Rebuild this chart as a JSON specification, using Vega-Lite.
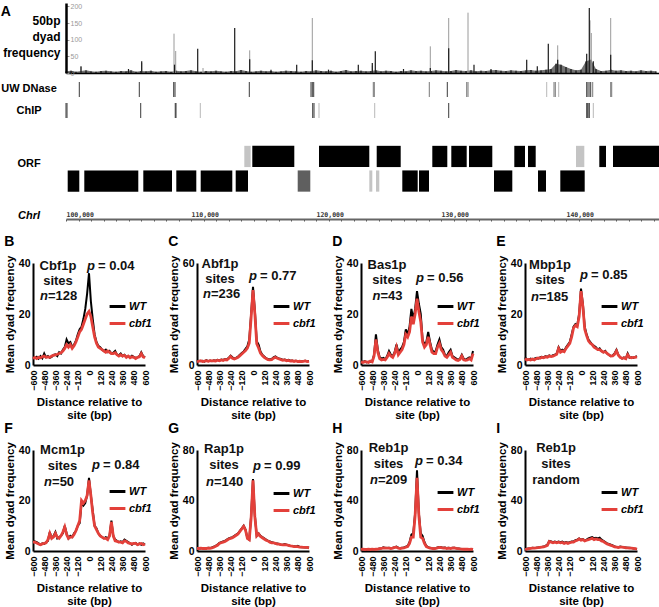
{
"$schema": "https://vega.github.io/schema/vega-lite/v6.json",
"padding": {"left": 0, "top": 2, "right": 0, "bottom": 0},
"datasets": {
"fuzz": [
{"pos":100000,"v":5},{"pos":100400,"v":7},{"pos":100800,"v":4},{"pos":101200,"v":6},{"pos":101600,"v":8},{"pos":102000,"v":5},{"pos":102400,"v":4},{"pos":102800,"v":6},{"pos":103200,"v":7},{"pos":103600,"v":5},
{"pos":104000,"v":4},{"pos":104400,"v":6},{"pos":104800,"v":5},{"pos":105200,"v":8},{"pos":105600,"v":4},{"pos":106000,"v":6},{"pos":106400,"v":5},{"pos":106800,"v":7},{"pos":107200,"v":4},{"pos":107600,"v":5},
{"pos":108000,"v":6},{"pos":108400,"v":4},{"pos":108800,"v":7},{"pos":109200,"v":5},{"pos":109600,"v":6},{"pos":110000,"v":8},{"pos":110400,"v":5},{"pos":110800,"v":4},{"pos":111200,"v":6},{"pos":111600,"v":5},
{"pos":112000,"v":7},{"pos":112400,"v":5},{"pos":112800,"v":4},{"pos":113200,"v":6},{"pos":113600,"v":5},{"pos":114000,"v":9},{"pos":114400,"v":6},{"pos":114800,"v":4},{"pos":115200,"v":5},{"pos":115600,"v":7},
{"pos":116000,"v":5},{"pos":116400,"v":6},{"pos":116800,"v":4},{"pos":117200,"v":5},{"pos":117600,"v":7},{"pos":118000,"v":6},{"pos":118400,"v":5},{"pos":118800,"v":4},{"pos":119200,"v":6},{"pos":119600,"v":5},
{"pos":120000,"v":8},{"pos":120400,"v":6},{"pos":120800,"v":5},{"pos":121200,"v":7},{"pos":121600,"v":4},{"pos":122000,"v":6},{"pos":122400,"v":9},{"pos":122800,"v":5},{"pos":123200,"v":6},{"pos":123600,"v":7},
{"pos":124000,"v":5},{"pos":124400,"v":6},{"pos":124800,"v":8},{"pos":125200,"v":5},{"pos":125600,"v":7},{"pos":126000,"v":6},{"pos":126400,"v":4},{"pos":126800,"v":6},{"pos":127200,"v":5},{"pos":127600,"v":8},
{"pos":128000,"v":6},{"pos":128400,"v":7},{"pos":128800,"v":5},{"pos":129200,"v":6},{"pos":129600,"v":8},{"pos":130000,"v":7},{"pos":130400,"v":5},{"pos":130800,"v":6},{"pos":131200,"v":9},{"pos":131600,"v":7},
{"pos":132000,"v":6},{"pos":132400,"v":8},{"pos":132800,"v":5},{"pos":133200,"v":7},{"pos":133600,"v":6},{"pos":134000,"v":8},{"pos":134400,"v":9},{"pos":134800,"v":7},{"pos":135200,"v":6},{"pos":135600,"v":8},
{"pos":136000,"v":7},{"pos":136400,"v":6},{"pos":136800,"v":8},{"pos":137200,"v":9},{"pos":137600,"v":7},{"pos":138000,"v":8},{"pos":138400,"v":10},{"pos":138800,"v":12},{"pos":139200,"v":28},{"pos":139600,"v":25},
{"pos":140000,"v":18},{"pos":140400,"v":12},{"pos":140800,"v":8},{"pos":141200,"v":10},{"pos":141600,"v":35},{"pos":142000,"v":40},{"pos":142400,"v":12},{"pos":142800,"v":6},{"pos":143200,"v":7},{"pos":143600,"v":10},
{"pos":144000,"v":7},{"pos":144400,"v":8},{"pos":144800,"v":6},{"pos":145200,"v":7},{"pos":145600,"v":5},{"pos":146000,"v":8},{"pos":146400,"v":6},{"pos":146800,"v":7},{"pos":147200,"v":5}
],
"graypeaks": [
{"pos":101200,"v":18},{"pos":106056,"v":30},{"pos":108640,"v":118},{"pos":108776,"v":66},{"pos":110960,"v":15},{"pos":114696,"v":68},{"pos":119704,"v":165},{"pos":124504,"v":22},{"pos":129144,"v":80},{"pos":130616,"v":165},{"pos":132160,"v":181},{"pos":139336,"v":83},{"pos":141920,"v":158},{"pos":142024,"v":120},{"pos":143576,"v":165}
],
"blackpeaks": [
{"pos":101200,"v":20},{"pos":105000,"v":12},{"pos":106056,"v":35},{"pos":108680,"v":25},{"pos":110536,"v":73},{"pos":113496,"v":135},{"pos":114696,"v":41},{"pos":116400,"v":10},{"pos":118456,"v":25},{"pos":119704,"v":38},{"pos":121000,"v":10},{"pos":123384,"v":25},{"pos":124504,"v":30},{"pos":124744,"v":65},{"pos":127000,"v":12},{"pos":129144,"v":15},{"pos":130616,"v":74},{"pos":132640,"v":25},{"pos":134000,"v":12},{"pos":136856,"v":40},{"pos":137704,"v":20},{"pos":138584,"v":88},{"pos":139336,"v":40},{"pos":141656,"v":58},{"pos":141864,"v":195},{"pos":142184,"v":35},{"pos":143576,"v":55}
],
"tracks": [
{"pos":101064,"track":"UW DNase","level":3},{"pos":105864,"track":"UW DNase","level":3},{"pos":108616,"track":"UW DNase","level":3},{"pos":108720,"track":"UW DNase","level":3},{"pos":114664,"track":"UW DNase","level":3},{"pos":119600,"track":"UW DNase","level":3},{"pos":119704,"track":"UW DNase","level":3},{"pos":119816,"track":"UW DNase","level":3},{"pos":124584,"track":"UW DNase","level":2},{"pos":124664,"track":"UW DNase","level":2},{"pos":129064,"track":"UW DNase","level":2},{"pos":130504,"track":"UW DNase","level":3},{"pos":132056,"track":"UW DNase","level":2},{"pos":132160,"track":"UW DNase","level":2},{"pos":138456,"track":"UW DNase","level":1},{"pos":139040,"track":"UW DNase","level":2},{"pos":139144,"track":"UW DNase","level":2},{"pos":139416,"track":"UW DNase","level":1},{"pos":141656,"track":"UW DNase","level":3},{"pos":141760,"track":"UW DNase","level":3},{"pos":141864,"track":"UW DNase","level":2},{"pos":141976,"track":"UW DNase","level":3},{"pos":142136,"track":"UW DNase","level":2},{"pos":143576,"track":"UW DNase","level":2},{"pos":143656,"track":"UW DNase","level":2},
{"pos":100000,"track":"ChIP","level":3},{"pos":100080,"track":"ChIP","level":3},{"pos":105976,"track":"ChIP","level":3},{"pos":108740,"track":"ChIP","level":3},{"pos":108800,"track":"ChIP","level":3},{"pos":110744,"track":"ChIP","level":1},{"pos":119736,"track":"ChIP","level":3},{"pos":119840,"track":"ChIP","level":3},{"pos":120240,"track":"ChIP","level":1},{"pos":124696,"track":"ChIP","level":1},{"pos":130616,"track":"ChIP","level":3},{"pos":141656,"track":"ChIP","level":3},{"pos":141736,"track":"ChIP","level":3},{"pos":141816,"track":"ChIP","level":2},{"pos":141864,"track":"ChIP","level":3},{"pos":142184,"track":"ChIP","level":1}
],
"orf": [
{"start":114264,"end":114776,"strand":"W","type":"dubious"},{"start":114904,"end":118264,"strand":"W","type":"verified"},{"start":120240,"end":124264,"strand":"W","type":"verified"},{"start":124856,"end":126776,"strand":"W","type":"verified"},{"start":129304,"end":130504,"strand":"W","type":"verified"},{"start":130824,"end":132056,"strand":"W","type":"verified"},{"start":132240,"end":134104,"strand":"W","type":"verified"},{"start":135864,"end":136720,"strand":"W","type":"verified"},{"start":136960,"end":137576,"strand":"W","type":"verified"},{"start":140800,"end":141464,"strand":"W","type":"dubious"},{"start":142664,"end":143200,"strand":"W","type":"verified"},{"start":143760,"end":147440,"strand":"W","type":"verified"},
{"start":100136,"end":101064,"strand":"C","type":"verified"},{"start":101464,"end":105784,"strand":"C","type":"verified"},{"start":106184,"end":108480,"strand":"C","type":"verified"},{"start":108824,"end":110424,"strand":"C","type":"verified"},{"start":110776,"end":113304,"strand":"C","type":"verified"},{"start":113576,"end":114560,"strand":"C","type":"verified"},{"start":118536,"end":119544,"strand":"C","type":"other"},{"start":124264,"end":124504,"strand":"C","type":"dubious"},{"start":124800,"end":125064,"strand":"C","type":"dubious"},{"start":126904,"end":128136,"strand":"C","type":"verified"},{"start":128240,"end":129040,"strand":"C","type":"verified"},{"start":134240,"end":135704,"strand":"C","type":"verified"},{"start":137760,"end":138400,"strand":"C","type":"verified"},{"start":139544,"end":141496,"strand":"C","type":"verified"}
],
"B": [
{"x":-600,"WT":3,"cbf1":2.5},{"x":-580,"WT":2.8,"cbf1":3},{"x":-560,"WT":3.2,"cbf1":2.5},{"x":-540,"WT":2.5,"cbf1":3},{"x":-520,"WT":3.5,"cbf1":2.8},{"x":-500,"WT":2.6,"cbf1":3.2},{"x":-480,"WT":4.5,"cbf1":3.5},{"x":-460,"WT":3,"cbf1":3},{"x":-440,"WT":3.5,"cbf1":3.2},{"x":-420,"WT":2.8,"cbf1":3},{"x":-400,"WT":3.2,"cbf1":3.5},{"x":-380,"WT":4,"cbf1":3.8},{"x":-360,"WT":4.2,"cbf1":4},{"x":-340,"WT":3.5,"cbf1":4.2},{"x":-320,"WT":5,"cbf1":4.5},{"x":-300,"WT":4.5,"cbf1":4.8},{"x":-280,"WT":6,"cbf1":5.5},{"x":-260,"WT":7,"cbf1":6.5},{"x":-240,"WT":10,"cbf1":8},{"x":-220,"WT":8.5,"cbf1":7},{"x":-200,"WT":9,"cbf1":8},{"x":-180,"WT":7,"cbf1":6.5},{"x":-160,"WT":8,"cbf1":7.5},{"x":-140,"WT":9.5,"cbf1":9},{"x":-120,"WT":12,"cbf1":11},{"x":-100,"WT":14,"cbf1":13},{"x":-80,"WT":15,"cbf1":14},{"x":-60,"WT":18,"cbf1":16},{"x":-40,"WT":22,"cbf1":18},{"x":-20,"WT":28,"cbf1":20},{"x":0,"WT":36,"cbf1":21},{"x":20,"WT":25,"cbf1":19},{"x":40,"WT":18,"cbf1":15},{"x":60,"WT":12,"cbf1":11},{"x":80,"WT":9,"cbf1":8.5},{"x":100,"WT":7.5,"cbf1":7},{"x":120,"WT":7,"cbf1":6.5},{"x":140,"WT":6,"cbf1":6},{"x":160,"WT":5.5,"cbf1":5.5},{"x":180,"WT":6,"cbf1":5},{"x":200,"WT":5,"cbf1":5.5},{"x":220,"WT":5.5,"cbf1":5},{"x":240,"WT":4.5,"cbf1":4.5},{"x":260,"WT":4.8,"cbf1":4.5},{"x":280,"WT":5.5,"cbf1":4.8},{"x":300,"WT":4,"cbf1":4},{"x":320,"WT":3.8,"cbf1":3.5},{"x":340,"WT":4.5,"cbf1":4},{"x":360,"WT":3.5,"cbf1":3.5},{"x":380,"WT":4,"cbf1":3.8},{"x":400,"WT":3.2,"cbf1":3},{"x":420,"WT":3.5,"cbf1":3.5},{"x":440,"WT":3,"cbf1":2.8},{"x":460,"WT":3.6,"cbf1":3.2},{"x":480,"WT":3.2,"cbf1":3},{"x":500,"WT":2.8,"cbf1":2.5},{"x":520,"WT":3,"cbf1":3},{"x":540,"WT":3.5,"cbf1":3.2},{"x":560,"WT":5,"cbf1":4.5},{"x":580,"WT":3.5,"cbf1":3.2},{"x":600,"WT":3,"cbf1":2.8}
],
"C": [
{"x":-600,"WT":2,"cbf1":1.8},{"x":-580,"WT":2.5,"cbf1":2.2},{"x":-560,"WT":2.2,"cbf1":2.5},{"x":-540,"WT":2.5,"cbf1":2},{"x":-520,"WT":2,"cbf1":2.3},{"x":-500,"WT":2.8,"cbf1":2.5},{"x":-480,"WT":2.3,"cbf1":2.2},{"x":-460,"WT":2.6,"cbf1":2.6},{"x":-440,"WT":2.2,"cbf1":2.4},{"x":-420,"WT":2.8,"cbf1":2.5},{"x":-400,"WT":2.5,"cbf1":2.3},{"x":-380,"WT":3,"cbf1":2.8},{"x":-360,"WT":2.6,"cbf1":2.5},{"x":-340,"WT":3.2,"cbf1":3},{"x":-320,"WT":3,"cbf1":2.7},{"x":-300,"WT":3.5,"cbf1":3.2},{"x":-280,"WT":3.2,"cbf1":3},{"x":-260,"WT":4.2,"cbf1":3.8},{"x":-240,"WT":5.5,"cbf1":5},{"x":-220,"WT":4.5,"cbf1":4},{"x":-200,"WT":3.8,"cbf1":3.5},{"x":-180,"WT":4.2,"cbf1":4},{"x":-160,"WT":5,"cbf1":4.5},{"x":-140,"WT":6,"cbf1":5.5},{"x":-120,"WT":7,"cbf1":6.5},{"x":-100,"WT":8,"cbf1":7.5},{"x":-80,"WT":9.5,"cbf1":8.5},{"x":-60,"WT":11,"cbf1":10},{"x":-40,"WT":15,"cbf1":13},{"x":-20,"WT":30,"cbf1":28},{"x":0,"WT":46,"cbf1":44},{"x":20,"WT":32,"cbf1":30},{"x":40,"WT":14,"cbf1":12.5},{"x":60,"WT":12,"cbf1":10},{"x":80,"WT":8,"cbf1":7},{"x":100,"WT":6,"cbf1":5.5},{"x":120,"WT":5,"cbf1":4.5},{"x":140,"WT":4,"cbf1":3.8},{"x":160,"WT":3.5,"cbf1":3.2},{"x":180,"WT":3.2,"cbf1":3},{"x":200,"WT":3.5,"cbf1":3.2},{"x":220,"WT":4.5,"cbf1":4},{"x":240,"WT":5,"cbf1":4.5},{"x":260,"WT":4.2,"cbf1":4},{"x":280,"WT":3.8,"cbf1":3.5},{"x":300,"WT":3.5,"cbf1":3.2},{"x":320,"WT":3,"cbf1":2.8},{"x":340,"WT":3.2,"cbf1":3},{"x":360,"WT":2.8,"cbf1":2.5},{"x":380,"WT":3,"cbf1":2.7},{"x":400,"WT":2.5,"cbf1":2.3},{"x":420,"WT":2.6,"cbf1":2.5},{"x":440,"WT":2.3,"cbf1":2.1},{"x":460,"WT":2.5,"cbf1":2.4},{"x":480,"WT":2.2,"cbf1":2},{"x":500,"WT":2.4,"cbf1":2.2},{"x":520,"WT":2.1,"cbf1":2},{"x":540,"WT":2.3,"cbf1":2.2},{"x":560,"WT":2.5,"cbf1":2.4},{"x":580,"WT":2.2,"cbf1":2},{"x":600,"WT":2.4,"cbf1":2.2}
],
"D": [
{"x":-600,"WT":1.5,"cbf1":1.2},{"x":-580,"WT":1.2,"cbf1":1},{"x":-560,"WT":1.5,"cbf1":1.3},{"x":-540,"WT":1,"cbf1":1.2},{"x":-520,"WT":1.3,"cbf1":1},{"x":-500,"WT":1.2,"cbf1":1.5},{"x":-480,"WT":1.5,"cbf1":1.2},{"x":-460,"WT":4,"cbf1":3.5},{"x":-440,"WT":12,"cbf1":10},{"x":-420,"WT":6,"cbf1":5},{"x":-400,"WT":3,"cbf1":2.5},{"x":-380,"WT":2.5,"cbf1":2},{"x":-360,"WT":2.8,"cbf1":2.2},{"x":-340,"WT":2.2,"cbf1":2},{"x":-320,"WT":3.5,"cbf1":3},{"x":-300,"WT":5.5,"cbf1":4.5},{"x":-280,"WT":4,"cbf1":3.5},{"x":-260,"WT":3.5,"cbf1":3},{"x":-240,"WT":5,"cbf1":4.5},{"x":-220,"WT":8,"cbf1":7},{"x":-200,"WT":5,"cbf1":4},{"x":-180,"WT":6,"cbf1":5},{"x":-160,"WT":7,"cbf1":6},{"x":-140,"WT":9,"cbf1":8},{"x":-120,"WT":14,"cbf1":12},{"x":-100,"WT":12,"cbf1":11},{"x":-80,"WT":15,"cbf1":13},{"x":-60,"WT":22,"cbf1":19},{"x":-40,"WT":18,"cbf1":16},{"x":-20,"WT":22,"cbf1":20},{"x":0,"WT":29,"cbf1":26},{"x":20,"WT":24,"cbf1":21},{"x":40,"WT":20,"cbf1":17},{"x":60,"WT":10,"cbf1":9},{"x":80,"WT":8,"cbf1":7},{"x":100,"WT":9,"cbf1":8},{"x":120,"WT":13,"cbf1":11},{"x":140,"WT":9,"cbf1":8},{"x":160,"WT":6,"cbf1":5},{"x":180,"WT":5,"cbf1":4.5},{"x":200,"WT":5.5,"cbf1":4.5},{"x":220,"WT":8,"cbf1":7},{"x":240,"WT":10,"cbf1":8.5},{"x":260,"WT":7,"cbf1":6},{"x":280,"WT":6,"cbf1":5},{"x":300,"WT":4,"cbf1":3.5},{"x":320,"WT":3.5,"cbf1":3},{"x":340,"WT":5,"cbf1":4},{"x":360,"WT":6,"cbf1":5},{"x":380,"WT":3.5,"cbf1":3},{"x":400,"WT":3,"cbf1":2.5},{"x":420,"WT":2.5,"cbf1":2},{"x":440,"WT":2,"cbf1":1.8},{"x":460,"WT":2.5,"cbf1":2.2},{"x":480,"WT":4,"cbf1":3.5},{"x":500,"WT":2.5,"cbf1":2},{"x":520,"WT":2,"cbf1":1.8},{"x":540,"WT":2.5,"cbf1":2},{"x":560,"WT":3,"cbf1":2.5},{"x":580,"WT":2.5,"cbf1":2},{"x":600,"WT":5.5,"cbf1":4.5}
],
"E": [
{"x":-600,"WT":3,"cbf1":2.5},{"x":-580,"WT":2.2,"cbf1":2},{"x":-560,"WT":2,"cbf1":2.2},{"x":-540,"WT":2.5,"cbf1":2},{"x":-520,"WT":2.2,"cbf1":2.3},{"x":-500,"WT":2.5,"cbf1":2},{"x":-480,"WT":2.8,"cbf1":2.5},{"x":-460,"WT":2.5,"cbf1":2.8},{"x":-440,"WT":3,"cbf1":2.6},{"x":-420,"WT":3.2,"cbf1":3},{"x":-400,"WT":3,"cbf1":2.8},{"x":-380,"WT":3.5,"cbf1":3.2},{"x":-360,"WT":3.2,"cbf1":3},{"x":-340,"WT":3.8,"cbf1":3.5},{"x":-320,"WT":3.5,"cbf1":3.3},{"x":-300,"WT":3.8,"cbf1":3.5},{"x":-280,"WT":4,"cbf1":3.8},{"x":-260,"WT":4.5,"cbf1":4.2},{"x":-240,"WT":7,"cbf1":6.5},{"x":-220,"WT":5.5,"cbf1":5},{"x":-200,"WT":6,"cbf1":5.5},{"x":-180,"WT":5.5,"cbf1":5.2},{"x":-160,"WT":7,"cbf1":6.5},{"x":-140,"WT":8,"cbf1":7.5},{"x":-120,"WT":9,"cbf1":8.5},{"x":-100,"WT":12,"cbf1":11},{"x":-80,"WT":15,"cbf1":14.5},{"x":-60,"WT":16,"cbf1":15.5},{"x":-40,"WT":15.5,"cbf1":15},{"x":-20,"WT":20,"cbf1":19},{"x":0,"WT":30,"cbf1":29},{"x":20,"WT":24,"cbf1":23},{"x":40,"WT":15,"cbf1":14},{"x":60,"WT":12,"cbf1":11.5},{"x":80,"WT":10,"cbf1":9.5},{"x":100,"WT":9,"cbf1":8.5},{"x":120,"WT":8,"cbf1":8},{"x":140,"WT":7.5,"cbf1":7},{"x":160,"WT":7,"cbf1":6.5},{"x":180,"WT":6,"cbf1":6},{"x":200,"WT":6.5,"cbf1":6},{"x":220,"WT":5.5,"cbf1":5.5},{"x":240,"WT":5,"cbf1":5},{"x":260,"WT":5.5,"cbf1":5.2},{"x":280,"WT":4.5,"cbf1":4.5},{"x":300,"WT":4,"cbf1":4},{"x":320,"WT":3.5,"cbf1":3.5},{"x":340,"WT":3.8,"cbf1":3.6},{"x":360,"WT":4.5,"cbf1":4.2},{"x":380,"WT":6,"cbf1":5.5},{"x":400,"WT":4,"cbf1":3.8},{"x":420,"WT":3,"cbf1":3},{"x":440,"WT":2.5,"cbf1":2.6},{"x":460,"WT":3,"cbf1":2.8},{"x":480,"WT":2.5,"cbf1":2.5},{"x":500,"WT":4.5,"cbf1":4},{"x":520,"WT":2.8,"cbf1":3},{"x":540,"WT":3,"cbf1":2.8},{"x":560,"WT":2.8,"cbf1":3},{"x":580,"WT":3.2,"cbf1":3},{"x":600,"WT":3.5,"cbf1":3.2}
],
"F": [
{"x":-600,"WT":4,"cbf1":3.5},{"x":-580,"WT":3.8,"cbf1":3.5},{"x":-560,"WT":3.5,"cbf1":3.2},{"x":-540,"WT":3,"cbf1":2.8},{"x":-520,"WT":2.5,"cbf1":2.5},{"x":-500,"WT":3,"cbf1":2.8},{"x":-480,"WT":2.8,"cbf1":3},{"x":-460,"WT":3.5,"cbf1":3.2},{"x":-440,"WT":4,"cbf1":4.5},{"x":-420,"WT":7.5,"cbf1":7},{"x":-400,"WT":5,"cbf1":5},{"x":-380,"WT":6,"cbf1":5.5},{"x":-360,"WT":7.5,"cbf1":7},{"x":-340,"WT":5,"cbf1":5.5},{"x":-320,"WT":5.5,"cbf1":5},{"x":-300,"WT":6,"cbf1":6},{"x":-280,"WT":7,"cbf1":7.5},{"x":-260,"WT":10,"cbf1":9.5},{"x":-240,"WT":7,"cbf1":6.5},{"x":-220,"WT":5,"cbf1":5},{"x":-200,"WT":6,"cbf1":5.5},{"x":-180,"WT":5.5,"cbf1":5.5},{"x":-160,"WT":7,"cbf1":6.5},{"x":-140,"WT":8,"cbf1":8},{"x":-120,"WT":10,"cbf1":10},{"x":-100,"WT":11,"cbf1":12},{"x":-80,"WT":19,"cbf1":20},{"x":-60,"WT":18,"cbf1":19},{"x":-40,"WT":19,"cbf1":20},{"x":-20,"WT":22,"cbf1":22},{"x":0,"WT":29,"cbf1":28},{"x":20,"WT":22,"cbf1":22},{"x":40,"WT":16,"cbf1":15},{"x":60,"WT":10,"cbf1":10},{"x":80,"WT":9,"cbf1":8.5},{"x":100,"WT":7,"cbf1":7},{"x":120,"WT":6,"cbf1":6},{"x":140,"WT":5.5,"cbf1":5.5},{"x":160,"WT":5,"cbf1":5},{"x":180,"WT":5.5,"cbf1":5},{"x":200,"WT":5,"cbf1":4.5},{"x":220,"WT":6,"cbf1":6},{"x":240,"WT":12,"cbf1":11.5},{"x":260,"WT":6,"cbf1":6},{"x":280,"WT":4.5,"cbf1":4},{"x":300,"WT":4,"cbf1":3.8},{"x":320,"WT":3.5,"cbf1":3.5},{"x":340,"WT":3.8,"cbf1":3.5},{"x":360,"WT":3.5,"cbf1":3.2},{"x":380,"WT":4.5,"cbf1":4},{"x":400,"WT":4,"cbf1":3.8},{"x":420,"WT":3.5,"cbf1":3.2},{"x":440,"WT":3,"cbf1":3},{"x":460,"WT":2.5,"cbf1":2.8},{"x":480,"WT":3,"cbf1":3},{"x":500,"WT":3.2,"cbf1":3},{"x":520,"WT":2.5,"cbf1":2.5},{"x":540,"WT":3,"cbf1":2.8},{"x":560,"WT":2.5,"cbf1":3},{"x":580,"WT":3,"cbf1":2.5},{"x":600,"WT":2.5,"cbf1":2.8}
],
"G": [
{"x":-600,"WT":2,"cbf1":2},{"x":-580,"WT":2.2,"cbf1":2},{"x":-560,"WT":2,"cbf1":2.2},{"x":-540,"WT":2.3,"cbf1":2},{"x":-520,"WT":2,"cbf1":2.1},{"x":-500,"WT":2.2,"cbf1":2},{"x":-480,"WT":2.5,"cbf1":2.3},{"x":-460,"WT":2.3,"cbf1":2.2},{"x":-440,"WT":2.8,"cbf1":2.5},{"x":-420,"WT":3.5,"cbf1":3},{"x":-400,"WT":4,"cbf1":3.8},{"x":-380,"WT":5,"cbf1":4.5},{"x":-360,"WT":6.5,"cbf1":6},{"x":-340,"WT":7,"cbf1":6.5},{"x":-320,"WT":7.5,"cbf1":7},{"x":-300,"WT":8,"cbf1":7.5},{"x":-280,"WT":9,"cbf1":8.5},{"x":-260,"WT":10,"cbf1":9.5},{"x":-240,"WT":10.5,"cbf1":10},{"x":-220,"WT":11,"cbf1":10.5},{"x":-200,"WT":12,"cbf1":11.5},{"x":-180,"WT":13,"cbf1":12.5},{"x":-160,"WT":14,"cbf1":13.5},{"x":-140,"WT":16,"cbf1":15.5},{"x":-120,"WT":18,"cbf1":17.5},{"x":-100,"WT":20,"cbf1":19.5},{"x":-80,"WT":17,"cbf1":16.5},{"x":-60,"WT":10,"cbf1":10},{"x":-40,"WT":9,"cbf1":9},{"x":-20,"WT":28,"cbf1":26},{"x":0,"WT":57,"cbf1":56},{"x":20,"WT":28,"cbf1":27},{"x":40,"WT":12,"cbf1":12},{"x":60,"WT":14,"cbf1":13.5},{"x":80,"WT":12,"cbf1":11.5},{"x":100,"WT":11,"cbf1":10.5},{"x":120,"WT":10,"cbf1":9.5},{"x":140,"WT":9,"cbf1":8.5},{"x":160,"WT":8,"cbf1":8},{"x":180,"WT":7.5,"cbf1":7},{"x":200,"WT":7,"cbf1":6.5},{"x":220,"WT":6.5,"cbf1":6.5},{"x":240,"WT":6,"cbf1":6},{"x":260,"WT":6,"cbf1":5.5},{"x":280,"WT":5.5,"cbf1":5.5},{"x":300,"WT":5,"cbf1":5},{"x":320,"WT":5,"cbf1":4.8},{"x":340,"WT":5.5,"cbf1":5},{"x":360,"WT":5,"cbf1":4.8},{"x":380,"WT":4.5,"cbf1":4.5},{"x":400,"WT":4,"cbf1":4},{"x":420,"WT":4,"cbf1":3.8},{"x":440,"WT":3.8,"cbf1":3.5},{"x":460,"WT":3.5,"cbf1":3.5},{"x":480,"WT":4,"cbf1":3.5},{"x":500,"WT":3.2,"cbf1":3},{"x":520,"WT":3,"cbf1":3},{"x":540,"WT":3,"cbf1":2.8},{"x":560,"WT":2.8,"cbf1":2.8},{"x":580,"WT":3,"cbf1":2.8},{"x":600,"WT":2.6,"cbf1":2.5}
],
"H": [
{"x":-600,"WT":1.5,"cbf1":1.3},{"x":-580,"WT":1.3,"cbf1":1.5},{"x":-560,"WT":1.5,"cbf1":1.2},{"x":-540,"WT":1.2,"cbf1":1.3},{"x":-520,"WT":1.5,"cbf1":1.4},{"x":-500,"WT":1.3,"cbf1":1.2},{"x":-480,"WT":1.5,"cbf1":1.5},{"x":-460,"WT":1.4,"cbf1":1.3},{"x":-440,"WT":1.5,"cbf1":1.4},{"x":-420,"WT":1.6,"cbf1":1.5},{"x":-400,"WT":2,"cbf1":1.8},{"x":-380,"WT":2.2,"cbf1":2},{"x":-360,"WT":3,"cbf1":2.5},{"x":-340,"WT":2.5,"cbf1":2.2},{"x":-320,"WT":2.3,"cbf1":2.2},{"x":-300,"WT":2.5,"cbf1":2.3},{"x":-280,"WT":2.2,"cbf1":2},{"x":-260,"WT":2.5,"cbf1":2.3},{"x":-240,"WT":3,"cbf1":2.8},{"x":-220,"WT":3.5,"cbf1":3},{"x":-200,"WT":2.5,"cbf1":2.2},{"x":-180,"WT":2.2,"cbf1":2},{"x":-160,"WT":2.5,"cbf1":2.3},{"x":-140,"WT":2.8,"cbf1":2.5},{"x":-120,"WT":3.5,"cbf1":3},{"x":-100,"WT":4,"cbf1":3.5},{"x":-80,"WT":7,"cbf1":6},{"x":-60,"WT":13,"cbf1":11},{"x":-40,"WT":14,"cbf1":11},{"x":-20,"WT":30,"cbf1":28},{"x":0,"WT":64,"cbf1":58},{"x":20,"WT":30,"cbf1":28},{"x":40,"WT":14,"cbf1":11},{"x":60,"WT":12,"cbf1":10},{"x":80,"WT":7,"cbf1":6},{"x":100,"WT":4,"cbf1":3.5},{"x":120,"WT":3,"cbf1":2.8},{"x":140,"WT":2.5,"cbf1":2.2},{"x":160,"WT":2.2,"cbf1":2},{"x":180,"WT":2,"cbf1":1.8},{"x":200,"WT":2.2,"cbf1":2},{"x":220,"WT":2.8,"cbf1":2.5},{"x":240,"WT":3.2,"cbf1":2.8},{"x":260,"WT":3,"cbf1":2.6},{"x":280,"WT":2.5,"cbf1":2.3},{"x":300,"WT":2.8,"cbf1":2.5},{"x":320,"WT":2.3,"cbf1":2},{"x":340,"WT":2.5,"cbf1":2.2},{"x":360,"WT":2.2,"cbf1":2},{"x":380,"WT":2.5,"cbf1":2.2},{"x":400,"WT":2.6,"cbf1":2.4},{"x":420,"WT":2.2,"cbf1":2},{"x":440,"WT":2,"cbf1":1.8},{"x":460,"WT":1.8,"cbf1":1.6},{"x":480,"WT":1.6,"cbf1":1.5},{"x":500,"WT":1.5,"cbf1":1.4},{"x":520,"WT":1.6,"cbf1":1.5},{"x":540,"WT":1.5,"cbf1":1.4},{"x":560,"WT":1.4,"cbf1":1.3},{"x":580,"WT":1.5,"cbf1":1.4},{"x":600,"WT":1.3,"cbf1":1.2}
],
"I": [
{"x":-600,"WT":1.5,"cbf1":1.3},{"x":-580,"WT":1.8,"cbf1":1.5},{"x":-560,"WT":2,"cbf1":1.8},{"x":-540,"WT":2.2,"cbf1":2},{"x":-520,"WT":2.5,"cbf1":2.2},{"x":-500,"WT":2.3,"cbf1":2.2},{"x":-480,"WT":2.5,"cbf1":2.5},{"x":-460,"WT":2.8,"cbf1":2.6},{"x":-440,"WT":3,"cbf1":2.8},{"x":-420,"WT":3.2,"cbf1":3},{"x":-400,"WT":3.5,"cbf1":3.2},{"x":-380,"WT":4,"cbf1":3.8},{"x":-360,"WT":5,"cbf1":4.5},{"x":-340,"WT":8,"cbf1":7.5},{"x":-320,"WT":7.5,"cbf1":7},{"x":-300,"WT":7,"cbf1":6.5},{"x":-280,"WT":7.5,"cbf1":7},{"x":-260,"WT":7,"cbf1":6.5},{"x":-240,"WT":7.5,"cbf1":7},{"x":-220,"WT":7,"cbf1":6.5},{"x":-200,"WT":7.5,"cbf1":6.8},{"x":-180,"WT":6.5,"cbf1":6},{"x":-160,"WT":7,"cbf1":6.5},{"x":-140,"WT":6.5,"cbf1":6},{"x":-120,"WT":7,"cbf1":6.5},{"x":-100,"WT":7.5,"cbf1":7},{"x":-80,"WT":7.5,"cbf1":7},{"x":-60,"WT":8.5,"cbf1":8},{"x":-40,"WT":9,"cbf1":8.5},{"x":-20,"WT":10,"cbf1":9.5},{"x":0,"WT":9,"cbf1":8.5},{"x":20,"WT":9.5,"cbf1":9},{"x":40,"WT":8.5,"cbf1":8},{"x":60,"WT":9,"cbf1":8.5},{"x":80,"WT":10,"cbf1":9},{"x":100,"WT":10.5,"cbf1":9.5},{"x":120,"WT":11,"cbf1":10},{"x":140,"WT":10,"cbf1":9},{"x":160,"WT":10.5,"cbf1":9.5},{"x":180,"WT":10,"cbf1":9},{"x":200,"WT":10.5,"cbf1":9},{"x":220,"WT":9,"cbf1":8},{"x":240,"WT":8,"cbf1":7.5},{"x":260,"WT":7,"cbf1":6.5},{"x":280,"WT":6,"cbf1":5.5},{"x":300,"WT":5.5,"cbf1":5},{"x":320,"WT":5,"cbf1":4.5},{"x":340,"WT":4.5,"cbf1":4},{"x":360,"WT":3.5,"cbf1":3.2},{"x":380,"WT":3.2,"cbf1":3},{"x":400,"WT":3,"cbf1":2.8},{"x":420,"WT":3.5,"cbf1":3},{"x":440,"WT":3.2,"cbf1":3},{"x":460,"WT":3,"cbf1":2.8},{"x":480,"WT":2.8,"cbf1":2.5},{"x":500,"WT":2.6,"cbf1":2.5},{"x":520,"WT":2.5,"cbf1":2.3},{"x":540,"WT":2.3,"cbf1":2.2},{"x":560,"WT":2,"cbf1":2},{"x":580,"WT":1.8,"cbf1":1.8},{"x":600,"WT":1.5,"cbf1":1.5}
]
},
"vconcat": [
{
"title": {"text": "A", "offset": -17},
"spacing": 5,
"resolve": {"scale": {"color": "independent"}},
"vconcat": [
{
"width": 626, "height": 70,
"encoding": {
"x": {"field": "pos", "type": "quantitative", "scale": {"domain": [100000, 147440], "range": [33, 626], "nice": false, "zero": false}, "axis": {"title": null, "labels": false, "ticks": false, "domain": true, "domainColor": "#000", "domainWidth": 1.5, "labelAngle": 0}},
"y": {"field": "v", "type": "quantitative", "scale": {"domain": [0, 210], "nice": false}, "axis": {"offset": -33, "title": ["50bp", "dyad", "frequency"], "values": [0, 50, 100, 150, 200], "domainColor": "#000", "domainWidth": 2.5, "ticks": true, "tickSize": -3, "tickColor": "#999", "labelColor": "#999", "labelFontSize": 7, "labelFontWeight": "normal", "labelAlign": "left", "labelPadding": -1, "labelBaseline": "middle", "titleAngle": 0, "titleAlign": "right", "titleBaseline": "top", "titleX": -6, "titleY": 12, "titleFontSize": 12, "titleLineHeight": 16}},
"y2": {"datum": 0}
},
"layer": [
{"data": {"name": "fuzz"}, "mark": {"type": "area", "color": "#000", "opacity": 0.55}},
{"data": {"name": "fuzz"}, "mark": {"type": "rule", "color": "#000", "strokeWidth": 1}},
{"data": {"name": "graypeaks"}, "mark": {"type": "rule", "color": "#9a9a9a", "strokeWidth": 1}},
{"data": {"name": "blackpeaks"}, "mark": {"type": "rule", "color": "#1a1a1a", "strokeWidth": 1.2}}
]
},
{
"data": {"name": "tracks"},
"width": 626, "height": 36,
"mark": {"type": "tick", "thickness": 1, "size": 15, "opacity": 1},
"encoding": {
"x": {"field": "pos", "type": "quantitative", "scale": {"domain": [100000, 147440], "range": [33, 626], "nice": false, "zero": false}, "axis": null},
"y": {"field": "track", "type": "nominal", "scale": {"domain": ["UW DNase", "ChIP"], "paddingInner": 0.286, "paddingOuter": 0}, "axis": {"title": null, "ticks": false, "domain": false, "labelPadding": 4.5, "labelAlign": "center", "labelFontSize": 11, "labelFontWeight": "bold", "labelColor": "#000"}},
"color": {"field": "level", "type": "ordinal", "scale": {"domain": [1, 2, 3], "range": ["#b8b8b8", "#787878", "#3a3a3a"]}, "legend": null}
}
},
{
"data": {"name": "orf"},
"width": 626, "height": 95,
"mark": {"type": "bar"},
"encoding": {
"x": {"field": "start", "type": "quantitative", "scale": {"domain": [100000, 147440], "range": [33, 626], "nice": false, "zero": false}, "axis": {"title": "ChrI", "titleFontStyle": "italic", "titleFontWeight": "bold", "titleFontSize": 11, "titleAngle": 0, "titleAlign": "center", "titleBaseline": "middle", "titleX": -4.5, "titleY": -4, "values": [100000,101000,102000,103000,104000,105000,106000,107000,108000,109000,110000,111000,112000,113000,114000,115000,116000,117000,118000,119000,120000,121000,122000,123000,124000,125000,126000,127000,128000,129000,130000,131000,132000,133000,134000,135000,136000,137000,138000,139000,140000,141000,142000,143000,144000,145000,146000,147000], "labelExpr": "datum.value % 10000 === 0 ? format(datum.value, ',d') : ''", "labelAlign": "left", "labelBaseline": "alphabetic", "labelPadding": -5, "labelFont": "DejaVu Sans Mono", "labelFontSize": 6.5, "labelFontWeight": "bold", "labelColor": "#333", "labelAngle": 0, "labelOverlap": false, "labelFlush": false, "ticks": true, "tickSize": 2, "tickColor": "#555", "tickWidth": 1, "domainColor": "#666", "domainWidth": 2}},
"x2": {"field": "end"},
"y": {"field": "strand", "type": "nominal", "scale": {"domain": ["W", "C"], "paddingInner": 0.136, "paddingOuter": 1.227, "align": 0.444}, "axis": {"title": null, "ticks": false, "domain": false, "labelExpr": "datum.value == 'W' ? 'ORF' : ''", "labelOffset": 7.5, "labelPadding": 4.5, "labelAlign": "center", "labelFontSize": 11, "labelFontWeight": "bold", "labelColor": "#000"}},
"color": {"field": "type", "type": "nominal", "scale": {"domain": ["verified", "dubious", "other"], "range": ["#000000", "#c4c4c4", "#5f5f5f"]}, "legend": null}
}
}
]
},
{
"spacing": 0,
"resolve": {"scale": {"color": "independent"}, "legend": {"color": "independent"}},
"vconcat": [
{
"hconcat": [
{"title": "B", "width": 112, "height": 102, "resolve": {"axis": {"x": "independent"}}, "layer": [
{"encoding": {"x": {"field": "x", "type": "quantitative", "scale": {"domain": [-600, 600]}, "axis": {"values": [-600,-480,-360,-240,-120,0,120,240,360,480,600], "labelOverlap": false, "labelSeparation": -6}, "title": ["Distance relative to", "site (bp)"]}}, "layer": [
{"data": {"name": "B"}, "mark": {"type": "line", "strokeWidth": 2}, "encoding": {"y": {"field": "WT", "type": "quantitative", "scale": {"domain": [0, 40]}, "axis": {"values": [0, 20, 40]}, "title": "Mean dyad frequency"}, "color": {"datum": "WT", "scale": {"domain": ["WT", "cbf1"], "range": ["#000000", "#e3403a"]}, "legend": {"title": null, "orient": "none", "legendX": 75, "legendY": 34}}}},
{"data": {"name": "B"}, "mark": {"type": "line", "strokeWidth": 2.8}, "encoding": {"y": {"field": "cbf1", "type": "quantitative", "scale": {"domain": [0, 40]}, "title": "Mean dyad frequency"}, "color": {"datum": "cbf1"}}}
]},
{"data": {"values": [{"site": "Cbf1p sites", "n": "=128", "p": "= 0.04"}]}, "layer": [
{"mark": {"type": "text", "align": "center", "lineBreak": " ", "lineHeight": 15, "dy": -3}, "encoding": {"x": {"datum": -332, "axis": null}, "y": {"datum": 40}, "text": {"field": "site"}}},
{"mark": {"type": "text", "align": "right", "fontStyle": "italic"}, "encoding": {"x": {"datum": -439, "axis": null}, "y": {"datum": 29.4}, "text": {"value": "n"}}},
{"mark": {"type": "text", "align": "left"}, "encoding": {"x": {"datum": -439, "axis": null}, "y": {"datum": 29.4}, "text": {"field": "n"}}},
{"mark": {"type": "text", "align": "right", "fontStyle": "italic", "dy": -3}, "encoding": {"x": {"datum": 64, "axis": null}, "y": {"datum": 40}, "text": {"value": "p"}}},
{"mark": {"type": "text", "align": "left", "dx": 3, "dy": -3}, "encoding": {"x": {"datum": 64, "axis": null}, "y": {"datum": 40}, "text": {"field": "p"}}}
]}
]},
{"title": "C", "width": 112, "height": 102, "resolve": {"axis": {"x": "independent"}}, "layer": [
{"encoding": {"x": {"field": "x", "type": "quantitative", "scale": {"domain": [-600, 600]}, "axis": {"values": [-600,-480,-360,-240,-120,0,120,240,360,480,600], "labelOverlap": false, "labelSeparation": -6}, "title": ["Distance relative to", "site (bp)"]}}, "layer": [
{"data": {"name": "C"}, "mark": {"type": "line", "strokeWidth": 2}, "encoding": {"y": {"field": "WT", "type": "quantitative", "scale": {"domain": [0, 60]}, "axis": {"values": [0, 20, 40, 60]}, "title": "Mean dyad frequency"}, "color": {"datum": "WT", "scale": {"domain": ["WT", "cbf1"], "range": ["#000000", "#e3403a"]}, "legend": {"title": null, "orient": "none", "legendX": 75, "legendY": 34}}}},
{"data": {"name": "C"}, "mark": {"type": "line", "strokeWidth": 2.8}, "encoding": {"y": {"field": "cbf1", "type": "quantitative", "scale": {"domain": [0, 60]}, "title": "Mean dyad frequency"}, "color": {"datum": "cbf1"}}}
]},
{"data": {"values": [{"site": "Abf1p sites", "n": "=236", "p": "= 0.77"}]}, "layer": [
{"mark": {"type": "text", "align": "center", "lineBreak": " ", "lineHeight": 15, "dy": -5}, "encoding": {"x": {"datum": -354, "axis": null}, "y": {"datum": 60}, "text": {"field": "site"}}},
{"mark": {"type": "text", "align": "right", "fontStyle": "italic"}, "encoding": {"x": {"datum": -450, "axis": null}, "y": {"datum": 45.3}, "text": {"value": "n"}}},
{"mark": {"type": "text", "align": "left"}, "encoding": {"x": {"datum": -450, "axis": null}, "y": {"datum": 45.3}, "text": {"field": "n"}}},
{"mark": {"type": "text", "align": "right", "fontStyle": "italic"}, "encoding": {"x": {"datum": 43, "axis": null}, "y": {"datum": 55.9}, "text": {"value": "p"}}},
{"mark": {"type": "text", "align": "left", "dx": 3}, "encoding": {"x": {"datum": 43, "axis": null}, "y": {"datum": 55.9}, "text": {"field": "p"}}}
]}
]},
{"title": "D", "width": 112, "height": 102, "resolve": {"axis": {"x": "independent"}}, "layer": [
{"encoding": {"x": {"field": "x", "type": "quantitative", "scale": {"domain": [-600, 600]}, "axis": {"values": [-600,-480,-360,-240,-120,0,120,240,360,480,600], "labelOverlap": false, "labelSeparation": -6}, "title": ["Distance relative to", "site (bp)"]}}, "layer": [
{"data": {"name": "D"}, "mark": {"type": "line", "strokeWidth": 2}, "encoding": {"y": {"field": "WT", "type": "quantitative", "scale": {"domain": [0, 40]}, "axis": {"values": [0, 20, 40]}, "title": "Mean dyad frequency"}, "color": {"datum": "WT", "scale": {"domain": ["WT", "cbf1"], "range": ["#000000", "#e3403a"]}, "legend": {"title": null, "orient": "none", "legendX": 75, "legendY": 34}}}},
{"data": {"name": "D"}, "mark": {"type": "line", "strokeWidth": 2.8}, "encoding": {"y": {"field": "cbf1", "type": "quantitative", "scale": {"domain": [0, 40]}, "title": "Mean dyad frequency"}, "color": {"datum": "cbf1"}}}
]},
{"data": {"values": [{"site": "Bas1p sites", "n": "=43", "p": "= 0.56"}]}, "layer": [
{"mark": {"type": "text", "align": "center", "lineBreak": " ", "lineHeight": 15, "dy": -4}, "encoding": {"x": {"datum": -321, "axis": null}, "y": {"datum": 40}, "text": {"field": "site"}}},
{"mark": {"type": "text", "align": "right", "fontStyle": "italic"}, "encoding": {"x": {"datum": -391, "axis": null}, "y": {"datum": 29.5}, "text": {"value": "n"}}},
{"mark": {"type": "text", "align": "left"}, "encoding": {"x": {"datum": -391, "axis": null}, "y": {"datum": 29.5}, "text": {"field": "n"}}},
{"mark": {"type": "text", "align": "right", "fontStyle": "italic"}, "encoding": {"x": {"datum": 75, "axis": null}, "y": {"datum": 36.4}, "text": {"value": "p"}}},
{"mark": {"type": "text", "align": "left", "dx": 3}, "encoding": {"x": {"datum": 75, "axis": null}, "y": {"datum": 36.4}, "text": {"field": "p"}}}
]}
]},
{"title": "E", "width": 112, "height": 102, "resolve": {"axis": {"x": "independent"}}, "layer": [
{"encoding": {"x": {"field": "x", "type": "quantitative", "scale": {"domain": [-600, 600]}, "axis": {"values": [-600,-480,-360,-240,-120,0,120,240,360,480,600], "labelOverlap": false, "labelSeparation": -6}, "title": ["Distance relative to", "site (bp)"]}}, "layer": [
{"data": {"name": "E"}, "mark": {"type": "line", "strokeWidth": 2}, "encoding": {"y": {"field": "WT", "type": "quantitative", "scale": {"domain": [0, 40]}, "axis": {"values": [0, 20, 40]}, "title": "Mean dyad frequency"}, "color": {"datum": "WT", "scale": {"domain": ["WT", "cbf1"], "range": ["#000000", "#e3403a"]}, "legend": {"title": null, "orient": "none", "legendX": 75, "legendY": 34}}}},
{"data": {"name": "E"}, "mark": {"type": "line", "strokeWidth": 2.8}, "encoding": {"y": {"field": "cbf1", "type": "quantitative", "scale": {"domain": [0, 40]}, "title": "Mean dyad frequency"}, "color": {"datum": "cbf1"}}}
]},
{"data": {"values": [{"site": "Mbp1p sites", "n": "=185", "p": "= 0.85"}]}, "layer": [
{"mark": {"type": "text", "align": "center", "lineBreak": " ", "lineHeight": 15, "dy": -4}, "encoding": {"x": {"datum": -332, "axis": null}, "y": {"datum": 40}, "text": {"field": "site"}}},
{"mark": {"type": "text", "align": "right", "fontStyle": "italic"}, "encoding": {"x": {"datum": -450, "axis": null}, "y": {"datum": 29.1}, "text": {"value": "n"}}},
{"mark": {"type": "text", "align": "left"}, "encoding": {"x": {"datum": -450, "axis": null}, "y": {"datum": 29.1}, "text": {"field": "n"}}},
{"mark": {"type": "text", "align": "right", "fontStyle": "italic"}, "encoding": {"x": {"datum": 75, "axis": null}, "y": {"datum": 37.6}, "text": {"value": "p"}}},
{"mark": {"type": "text", "align": "left", "dx": 3}, "encoding": {"x": {"datum": 75, "axis": null}, "y": {"datum": 37.6}, "text": {"field": "p"}}}
]}
]}
],
"spacing": 16,
"resolve": {"scale": {"color": "independent"}, "legend": {"color": "independent"}}
},
{
"hconcat": [
{"title": "F", "width": 112, "height": 101, "resolve": {"axis": {"x": "independent"}}, "layer": [
{"encoding": {"x": {"field": "x", "type": "quantitative", "scale": {"domain": [-600, 600]}, "axis": {"values": [-600,-480,-360,-240,-120,0,120,240,360,480,600], "labelOverlap": false, "labelSeparation": -6}, "title": ["Distance relative to", "site (bp)"]}}, "layer": [
{"data": {"name": "F"}, "mark": {"type": "line", "strokeWidth": 2}, "encoding": {"y": {"field": "WT", "type": "quantitative", "scale": {"domain": [0, 40]}, "axis": {"values": [0, 20, 40]}, "title": "Mean dyad frequency"}, "color": {"datum": "WT", "scale": {"domain": ["WT", "cbf1"], "range": ["#000000", "#e3403a"]}, "legend": {"title": null, "orient": "none", "legendX": 75, "legendY": 32}}}},
{"data": {"name": "F"}, "mark": {"type": "line", "strokeWidth": 2.8}, "encoding": {"y": {"field": "cbf1", "type": "quantitative", "scale": {"domain": [0, 40]}, "title": "Mean dyad frequency"}, "color": {"datum": "cbf1"}}}
]},
{"data": {"values": [{"site": "Mcm1p sites", "n": "=50", "p": "= 0.84"}]}, "layer": [
{"mark": {"type": "text", "align": "center", "lineBreak": " ", "lineHeight": 16, "dy": -6}, "encoding": {"x": {"datum": -284, "axis": null}, "y": {"datum": 40}, "text": {"field": "site"}}},
{"mark": {"type": "text", "align": "right", "fontStyle": "italic"}, "encoding": {"x": {"datum": -396, "axis": null}, "y": {"datum": 29.9}, "text": {"value": "n"}}},
{"mark": {"type": "text", "align": "left"}, "encoding": {"x": {"datum": -396, "axis": null}, "y": {"datum": 29.9}, "text": {"field": "n"}}},
{"mark": {"type": "text", "align": "right", "fontStyle": "italic"}, "encoding": {"x": {"datum": 118, "axis": null}, "y": {"datum": 36.5}, "text": {"value": "p"}}},
{"mark": {"type": "text", "align": "left", "dx": 3}, "encoding": {"x": {"datum": 118, "axis": null}, "y": {"datum": 36.5}, "text": {"field": "p"}}}
]}
]},
{"title": "G", "width": 112, "height": 101, "resolve": {"axis": {"x": "independent"}}, "layer": [
{"encoding": {"x": {"field": "x", "type": "quantitative", "scale": {"domain": [-600, 600]}, "axis": {"values": [-600,-480,-360,-240,-120,0,120,240,360,480,600], "labelOverlap": false, "labelSeparation": -6}, "title": ["Distance relative to", "site (bp)"]}}, "layer": [
{"data": {"name": "G"}, "mark": {"type": "line", "strokeWidth": 2}, "encoding": {"y": {"field": "WT", "type": "quantitative", "scale": {"domain": [0, 80]}, "axis": {"values": [0, 20, 40, 60, 80]}, "title": "Mean dyad frequency"}, "color": {"datum": "WT", "scale": {"domain": ["WT", "cbf1"], "range": ["#000000", "#e3403a"]}, "legend": {"title": null, "orient": "none", "legendX": 75, "legendY": 34}}}},
{"data": {"name": "G"}, "mark": {"type": "line", "strokeWidth": 2.8}, "encoding": {"y": {"field": "cbf1", "type": "quantitative", "scale": {"domain": [0, 80]}, "title": "Mean dyad frequency"}, "color": {"datum": "cbf1"}}}
]},
{"data": {"values": [{"site": "Rap1p sites", "n": "=140", "p": "= 0.99"}]}, "layer": [
{"mark": {"type": "text", "align": "center", "lineBreak": " ", "lineHeight": 16, "dy": -7}, "encoding": {"x": {"datum": -311, "axis": null}, "y": {"datum": 80}, "text": {"field": "site"}}},
{"mark": {"type": "text", "align": "right", "fontStyle": "italic"}, "encoding": {"x": {"datum": -418, "axis": null}, "y": {"datum": 59.6}, "text": {"value": "n"}}},
{"mark": {"type": "text", "align": "left"}, "encoding": {"x": {"datum": -418, "axis": null}, "y": {"datum": 59.6}, "text": {"field": "n"}}},
{"mark": {"type": "text", "align": "right", "fontStyle": "italic"}, "encoding": {"x": {"datum": 86, "axis": null}, "y": {"datum": 72.3}, "text": {"value": "p"}}},
{"mark": {"type": "text", "align": "left", "dx": 3}, "encoding": {"x": {"datum": 86, "axis": null}, "y": {"datum": 72.3}, "text": {"field": "p"}}}
]}
]},
{"title": "H", "width": 112, "height": 101, "resolve": {"axis": {"x": "independent"}}, "layer": [
{"encoding": {"x": {"field": "x", "type": "quantitative", "scale": {"domain": [-600, 600]}, "axis": {"values": [-600,-480,-360,-240,-120,0,120,240,360,480,600], "labelOverlap": false, "labelSeparation": -6}, "title": ["Distance relative to", "site (bp)"]}}, "layer": [
{"data": {"name": "H"}, "mark": {"type": "line", "strokeWidth": 2}, "encoding": {"y": {"field": "WT", "type": "quantitative", "scale": {"domain": [0, 80]}, "axis": {"values": [0, 20, 40, 60, 80]}, "title": "Mean dyad frequency"}, "color": {"datum": "WT", "scale": {"domain": ["WT", "cbf1"], "range": ["#000000", "#e3403a"]}, "legend": {"title": null, "orient": "none", "legendX": 75, "legendY": 33}}}},
{"data": {"name": "H"}, "mark": {"type": "line", "strokeWidth": 2.8}, "encoding": {"y": {"field": "cbf1", "type": "quantitative", "scale": {"domain": [0, 80]}, "title": "Mean dyad frequency"}, "color": {"datum": "cbf1"}}}
]},
{"data": {"values": [{"site": "Reb1p sites", "n": "=209", "p": "= 0.34"}]}, "layer": [
{"mark": {"type": "text", "align": "center", "lineBreak": " ", "lineHeight": 16, "dy": -8}, "encoding": {"x": {"datum": -305, "axis": null}, "y": {"datum": 80}, "text": {"field": "site"}}},
{"mark": {"type": "text", "align": "right", "fontStyle": "italic"}, "encoding": {"x": {"datum": -418, "axis": null}, "y": {"datum": 61}, "text": {"value": "n"}}},
{"mark": {"type": "text", "align": "left"}, "encoding": {"x": {"datum": -418, "axis": null}, "y": {"datum": 61}, "text": {"field": "n"}}},
{"mark": {"type": "text", "align": "right", "fontStyle": "italic"}, "encoding": {"x": {"datum": 64, "axis": null}, "y": {"datum": 76.3}, "text": {"value": "p"}}},
{"mark": {"type": "text", "align": "left", "dx": 3}, "encoding": {"x": {"datum": 64, "axis": null}, "y": {"datum": 76.3}, "text": {"field": "p"}}}
]}
]},
{"title": "I", "width": 112, "height": 101, "resolve": {"axis": {"x": "independent"}}, "layer": [
{"encoding": {"x": {"field": "x", "type": "quantitative", "scale": {"domain": [-600, 600]}, "axis": {"values": [-600,-480,-360,-240,-120,0,120,240,360,480,600], "labelOverlap": false, "labelSeparation": -6}, "title": ["Distance relative to", "site (bp)"]}}, "layer": [
{"data": {"name": "I"}, "mark": {"type": "line", "strokeWidth": 2}, "encoding": {"y": {"field": "WT", "type": "quantitative", "scale": {"domain": [0, 80]}, "axis": {"values": [0, 20, 40, 60, 80]}, "title": "Mean dyad frequency"}, "color": {"datum": "WT", "scale": {"domain": ["WT", "cbf1"], "range": ["#000000", "#e3403a"]}, "legend": {"title": null, "orient": "none", "legendX": 75, "legendY": 33}}}},
{"data": {"name": "I"}, "mark": {"type": "line", "strokeWidth": 2.8}, "encoding": {"y": {"field": "cbf1", "type": "quantitative", "scale": {"domain": [0, 80]}, "title": "Mean dyad frequency"}, "color": {"datum": "cbf1"}}}
]},
{"data": {"values": [{"site": "Reb1p sites random"}]}, "layer": [
{"mark": {"type": "text", "align": "center", "lineBreak": " ", "lineHeight": 16, "dy": -8}, "encoding": {"x": {"datum": -268, "axis": null}, "y": {"datum": 80}, "text": {"field": "site"}}}
]}
]}
],
"spacing": 16,
"resolve": {"scale": {"color": "independent"}, "legend": {"color": "independent"}}
}
]
}
],
"spacing": 13,
"resolve": {"scale": {"color": "independent"}, "legend": {"color": "independent"}},
"config": {
"font": "Liberation Sans",
"view": {"stroke": null},
"axis": {"grid": false, "ticks": false, "domainColor": "#000", "domainWidth": 2, "labelFont": "Liberation Sans", "labelFontWeight": "bold", "labelFontSize": 10.5, "labelColor": "#000", "titleFont": "Liberation Sans", "titleFontWeight": "bold", "titleFontSize": 11.5, "titleColor": "#000"},
"axisX": {"labelAngle": -90, "labelPadding": 5, "titlePadding": 6, "titleLineHeight": 13, "labelOverlap": false, "labelFontSize": 9},
"axisY": {"labelPadding": 3, "titlePadding": 3},
"title": {"anchor": "start", "frame": "bounds", "fontSize": 14, "fontWeight": "bold", "offset": 6, "font": "Liberation Sans", "color": "#000"},
"legend": {"symbolType": "stroke", "symbolStrokeWidth": 3, "symbolSize": 250, "labelFontSize": 11, "labelFontStyle": "italic", "labelFontWeight": "bold", "labelColor": "#000", "rowPadding": 1, "padding": 0, "labelOffset": 2, "labelFont": "Liberation Sans"},
"text": {"font": "Liberation Sans", "fontSize": 13, "fontWeight": "bold", "baseline": "top", "color": "#111"}
}
}
